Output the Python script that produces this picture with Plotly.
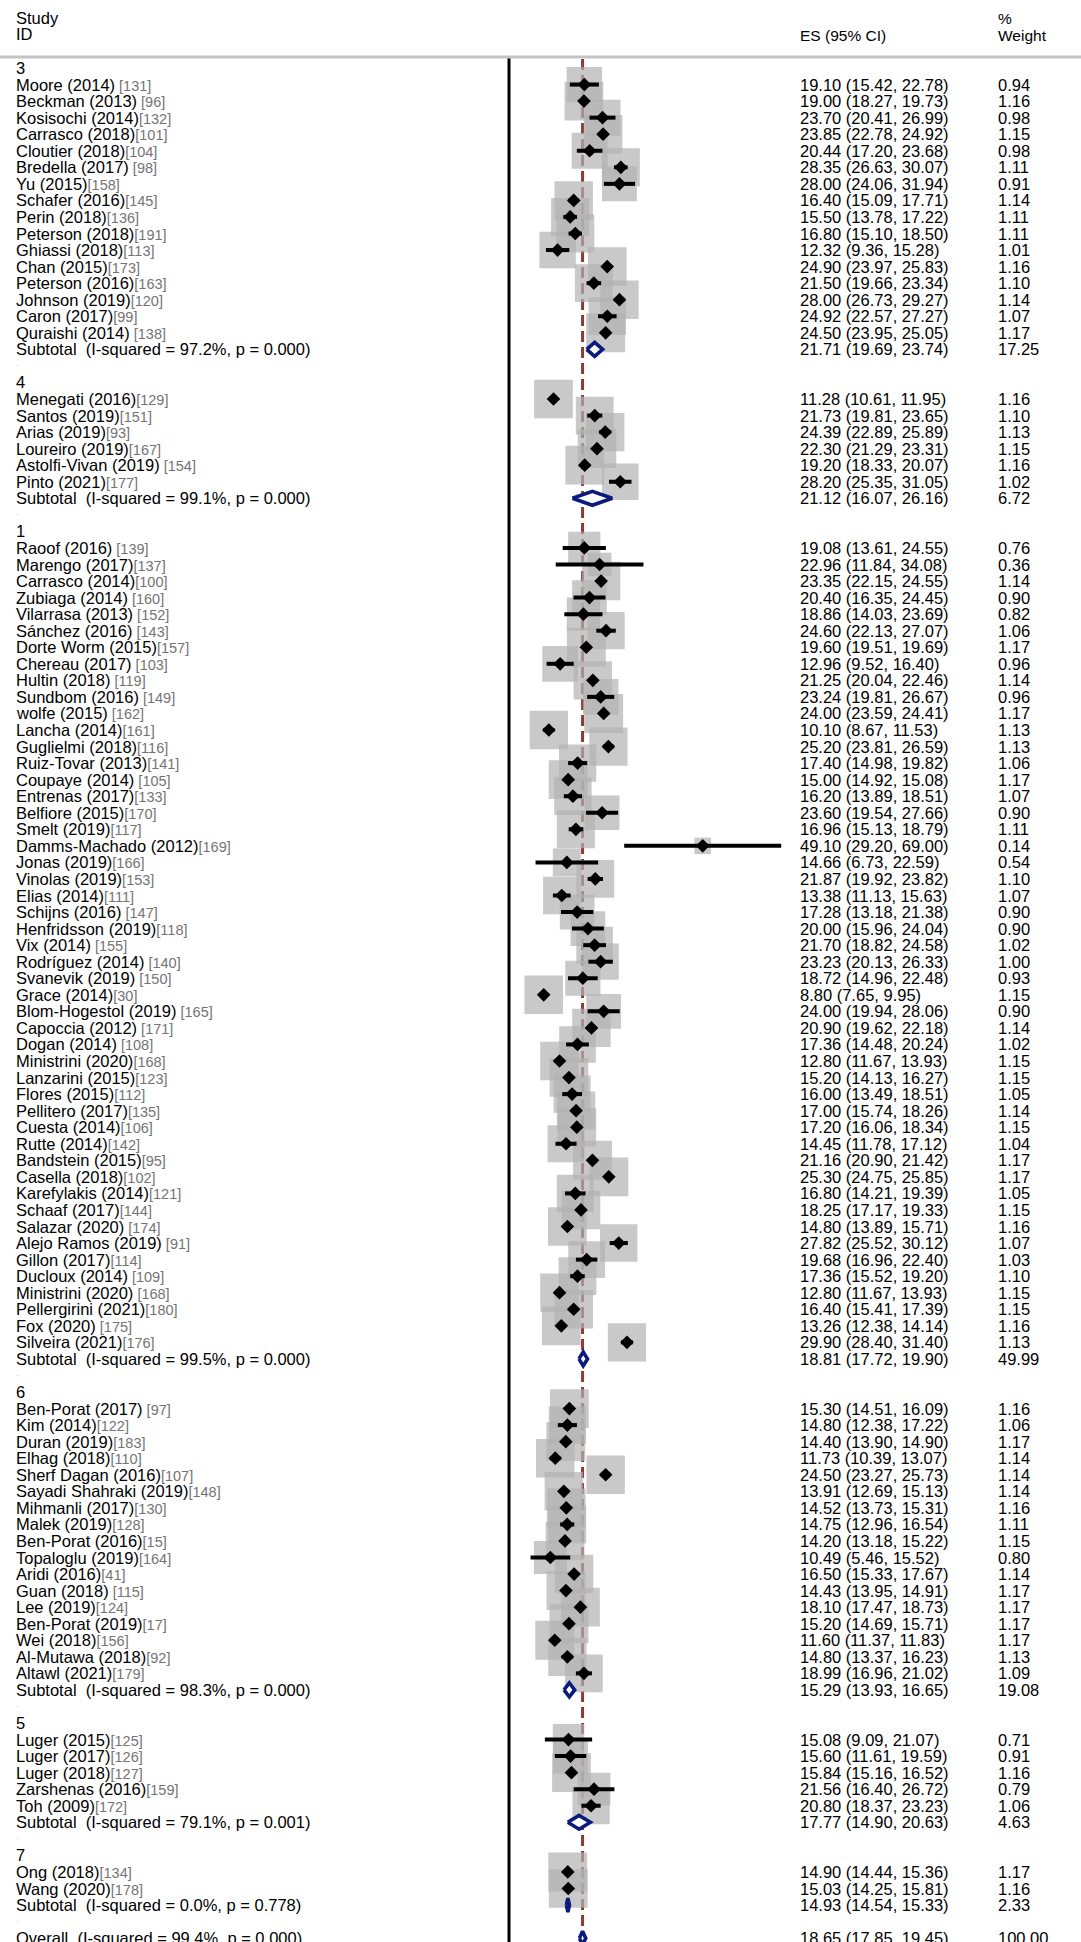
import plotly.graph_objects as go
import numpy as np

# ---------------- data ----------------
group_order = ["3", "4", "1", "6", "5", "7"]

study_group = (["3"] * 16 + ["4"] * 6 + ["1"] * 49 + ["6"] * 17 + ["5"] * 5 + ["7"] * 2)

study_name = [
    # 3
    "Moore (2014)", "Beckman (2013)", "Kosisochi (2014)", "Carrasco (2018)", "Cloutier (2018)",
    "Bredella (2017)", "Yu (2015)", "Schafer (2016)", "Perin (2018)", "Peterson (2018)",
    "Ghiassi (2018)", "Chan (2015)", "Peterson (2016)", "Johnson (2019)", "Caron (2017)",
    "Quraishi (2014)",
    # 4
    "Menegati (2016)", "Santos (2019)", "Arias (2019)", "Loureiro (2019)", "Astolfi-Vivan (2019)",
    "Pinto (2021)",
    # 1
    "Raoof (2016)", "Marengo (2017)", "Carrasco (2014)", "Zubiaga (2014)", "Vilarrasa (2013)",
    "Sánchez (2016)", "Dorte Worm (2015)", "Chereau (2017)", "Hultin (2018)", "Sundbom (2016)",
    "wolfe (2015)", "Lancha (2014)", "Guglielmi (2018)", "Ruiz-Tovar (2013)", "Coupaye (2014)",
    "Entrenas (2017)", "Belfiore (2015)", "Smelt (2019)", "Damms-Machado (2012)", "Jonas (2019)",
    "Vinolas (2019)", "Elias (2014)", "Schijns (2016)", "Henfridsson (2019)", "Vix (2014)",
    "Rodríguez (2014)", "Svanevik (2019)", "Grace (2014)", "Blom-Hogestol (2019)", "Capoccia (2012)",
    "Dogan (2014)", "Ministrini (2020)", "Lanzarini (2015)", "Flores (2015)", "Pellitero (2017)",
    "Cuesta (2014)", "Rutte (2014)", "Bandstein (2015)", "Casella (2018)", "Karefylakis (2014)",
    "Schaaf (2017)", "Salazar (2020)", "Alejo Ramos (2019)", "Gillon (2017)", "Ducloux (2014)",
    "Ministrini (2020)", "Pellergirini (2021)", "Fox (2020)", "Silveira (2021)",
    # 6
    "Ben-Porat (2017)", "Kim (2014)", "Duran (2019)", "Elhag (2018)", "Sherf Dagan (2016)",
    "Sayadi Shahraki (2019)", "Mihmanli (2017)", "Malek (2019)", "Ben-Porat (2016)",
    "Topaloglu (2019)", "Aridi (2016)", "Guan (2018)", "Lee (2019)", "Ben-Porat (2019)",
    "Wei (2018)", "Al-Mutawa (2018)", "Altawl (2021)",
    # 5
    "Luger (2015)", "Luger (2017)", "Luger (2018)", "Zarshenas (2016)", "Toh (2009)",
    # 7
    "Ong (2018)", "Wang (2020)",
]

study_ref = [
    " [131]", " [96]", "[132]", "[101]", "[104]", " [98]", "[158]", "[145]", "[136]", "[191]",
    "[113]", "[173]", "[163]", "[120]", "[99]", " [138]",
    "[129]", "[151]", "[93]", "[167]", " [154]", "[177]",
    " [139]", "[137]", "[100]", " [160]", " [152]", " [143]", "[157]", " [103]", " [119]", " [149]",
    " [162]", "[161]", "[116]", "[141]", " [105]", "[133]", "[170]", "[117]", "[169]", "[166]",
    "[153]", "[111]", " [147]", "[118]", " [155]", " [140]", " [150]", "[30]", " [165]", " [171]",
    " [108]", "[168]", "[123]", "[112]", "[135]", "[106]", "[142]", "[95]", "[102]", "[121]",
    "[144]", " [174]", " [91]", "[114]", " [109]", " [168]", "[180]", " [175]", "[176]",
    " [97]", "[122]", "[183]", "[110]", "[107]", "[148]", "[130]", "[128]", "[15]", "[164]",
    "[41]", " [115]", "[124]", "[17]", "[156]", "[92]", "[179]",
    "[125]", "[126]", "[127]", "[159]", "[172]",
    "[134]", "[178]",
]

study_es = [
    19.10, 19.00, 23.70, 23.85, 20.44, 28.35, 28.00, 16.40, 15.50, 16.80, 12.32, 24.90, 21.50,
    28.00, 24.92, 24.50,
    11.28, 21.73, 24.39, 22.30, 19.20, 28.20,
    19.08, 22.96, 23.35, 20.40, 18.86, 24.60, 19.60, 12.96, 21.25, 23.24, 24.00, 10.10, 25.20,
    17.40, 15.00, 16.20, 23.60, 16.96, 49.10, 14.66, 21.87, 13.38, 17.28, 20.00, 21.70, 23.23,
    18.72, 8.80, 24.00, 20.90, 17.36, 12.80, 15.20, 16.00, 17.00, 17.20, 14.45, 21.16, 25.30,
    16.80, 18.25, 14.80, 27.82, 19.68, 17.36, 12.80, 16.40, 13.26, 29.90,
    15.30, 14.80, 14.40, 11.73, 24.50, 13.91, 14.52, 14.75, 14.20, 10.49, 16.50, 14.43, 18.10,
    15.20, 11.60, 14.80, 18.99,
    15.08, 15.60, 15.84, 21.56, 20.80,
    14.90, 15.03,
]

study_lo = [
    15.42, 18.27, 20.41, 22.78, 17.20, 26.63, 24.06, 15.09, 13.78, 15.10, 9.36, 23.97, 19.66,
    26.73, 22.57, 23.95,
    10.61, 19.81, 22.89, 21.29, 18.33, 25.35,
    13.61, 11.84, 22.15, 16.35, 14.03, 22.13, 19.51, 9.52, 20.04, 19.81, 23.59, 8.67, 23.81,
    14.98, 14.92, 13.89, 19.54, 15.13, 29.20, 6.73, 19.92, 11.13, 13.18, 15.96, 18.82, 20.13,
    14.96, 7.65, 19.94, 19.62, 14.48, 11.67, 14.13, 13.49, 15.74, 16.06, 11.78, 20.90, 24.75,
    14.21, 17.17, 13.89, 25.52, 16.96, 15.52, 11.67, 15.41, 12.38, 28.40,
    14.51, 12.38, 13.90, 10.39, 23.27, 12.69, 13.73, 12.96, 13.18, 5.46, 15.33, 13.95, 17.47,
    14.69, 11.37, 13.37, 16.96,
    9.09, 11.61, 15.16, 16.40, 18.37,
    14.44, 14.25,
]

study_hi = [
    22.78, 19.73, 26.99, 24.92, 23.68, 30.07, 31.94, 17.71, 17.22, 18.50, 15.28, 25.83, 23.34,
    29.27, 27.27, 25.05,
    11.95, 23.65, 25.89, 23.31, 20.07, 31.05,
    24.55, 34.08, 24.55, 24.45, 23.69, 27.07, 19.69, 16.40, 22.46, 26.67, 24.41, 11.53, 26.59,
    19.82, 15.08, 18.51, 27.66, 18.79, 69.00, 22.59, 23.82, 15.63, 21.38, 24.04, 24.58, 26.33,
    22.48, 9.95, 28.06, 22.18, 20.24, 13.93, 16.27, 18.51, 18.26, 18.34, 17.12, 21.42, 25.85,
    19.39, 19.33, 15.71, 30.12, 22.40, 19.20, 13.93, 17.39, 14.14, 31.40,
    16.09, 17.22, 14.90, 13.07, 25.73, 15.13, 15.31, 16.54, 15.22, 15.52, 17.67, 14.91, 18.73,
    15.71, 11.83, 16.23, 21.02,
    21.07, 19.59, 16.52, 26.72, 23.23,
    15.36, 15.81,
]

study_wt = [
    0.94, 1.16, 0.98, 1.15, 0.98, 1.11, 0.91, 1.14, 1.11, 1.11, 1.01, 1.16, 1.10, 1.14, 1.07, 1.17,
    1.16, 1.10, 1.13, 1.15, 1.16, 1.02,
    0.76, 0.36, 1.14, 0.90, 0.82, 1.06, 1.17, 0.96, 1.14, 0.96, 1.17, 1.13, 1.13, 1.06, 1.17,
    1.07, 0.90, 1.11, 0.14, 0.54, 1.10, 1.07, 0.90, 0.90, 1.02, 1.00, 0.93, 1.15, 0.90, 1.14,
    1.02, 1.15, 1.15, 1.05, 1.14, 1.15, 1.04, 1.17, 1.17, 1.05, 1.15, 1.16, 1.07, 1.03, 1.10,
    1.15, 1.15, 1.16, 1.13,
    1.16, 1.06, 1.17, 1.14, 1.14, 1.14, 1.16, 1.11, 1.15, 0.80, 1.14, 1.17, 1.17, 1.17, 1.17,
    1.13, 1.09,
    0.71, 0.91, 1.16, 0.79, 1.06,
    1.17, 1.16,
]

sub_group = ["3", "4", "1", "6", "5", "7"]
sub_i2 = [97.2, 99.1, 99.5, 98.3, 79.1, 0.0]
sub_p = [0.000, 0.000, 0.000, 0.000, 0.001, 0.778]
sub_es = [21.71, 21.12, 18.81, 15.29, 17.77, 14.93]
sub_lo = [19.69, 16.07, 17.72, 13.93, 14.90, 14.54]
sub_hi = [23.74, 26.16, 19.90, 16.65, 20.63, 15.33]
sub_wt = [17.25, 6.72, 49.99, 19.08, 4.63, 2.33]

overall_i2 = 99.4
overall_p = 0.000
overall_es = 18.65
overall_lo = 17.85
overall_hi = 19.45
overall_wt = 100.00

# ---------------- layout constants ----------------
W, H = 1081, 1942
ROW0_PX = 68.0
ROW_PX = 16.55
HEAD_LINE_PX = 57.0
X_ZERO_PX = 509.0
PX_PER_UNIT = 3.945

x_min = -X_ZERO_PX / PX_PER_UNIT
x_max = x_min + W / PX_PER_UNIT
y_top = -ROW0_PX / ROW_PX
y_bot = (H - ROW0_PX) / ROW_PX

FONT = "Liberation Sans, Arial, sans-serif"
LAB_SIZE = 16.5
NUM_SIZE = 16.5
HEAD_SIZE = 15.5
REF_SIZE = 14.5
X_LAB = 15 / W
X_ES = 799 / W
X_WT = 997 / W

# ---------------- assemble rows ----------------
r = 0
study_rows = [None] * len(study_name)
sub_rows = {}
header_rows = {}
blank_rows = []
for g in group_order:
    header_rows[g] = r
    r += 1
    for i, sg in enumerate(study_group):
        if sg == g:
            study_rows[i] = r
            r += 1
    sub_rows[g] = r
    r += 1
    blank_rows.append(r)
    r += 1
overall_row = r

annotations = []


def add_text(x, y, text, size, color="#000000", yref="y"):
    annotations.append(dict(
        x=x, y=y, xref="paper", yref=yref, text=text, showarrow=False,
        xanchor="left", yanchor="middle", borderpad=0,
        font=dict(family=FONT, size=size, color=color),
    ))


def fmt_ci(es, lo, hi):
    return f"{es:.2f} ({lo:.2f}, {hi:.2f})"


# header
add_text(X_LAB, 1 - 18 / H, "Study", LAB_SIZE, yref="paper")
add_text(X_LAB, 1 - 34 / H, "ID", LAB_SIZE, yref="paper")
add_text(X_ES, 1 - 35 / H, "ES (95% CI)", HEAD_SIZE, yref="paper")
add_text(X_WT, 1 - 19 / H, "%", HEAD_SIZE, yref="paper")
add_text(X_WT, 1 - 35 / H, "Weight", HEAD_SIZE, yref="paper")

for g in group_order:
    add_text(X_LAB, header_rows[g], g, LAB_SIZE)

for i, name in enumerate(study_name):
    y = study_rows[i]
    ref = study_ref[i].replace(" ", "\u00a0")
    add_text(X_LAB, y, f"{name}<span style='font-size:{REF_SIZE}px;color:#747474'>{ref}</span>", LAB_SIZE)
    add_text(X_ES, y, fmt_ci(study_es[i], study_lo[i], study_hi[i]), NUM_SIZE)
    add_text(X_WT, y, f"{study_wt[i]:.2f}", NUM_SIZE)

for k, g in enumerate(sub_group):
    y = sub_rows[g]
    add_text(X_LAB, y, f"Subtotal\u00a0\u00a0(I-squared = {sub_i2[k]:.1f}%, p = {sub_p[k]:.3f})", LAB_SIZE)
    add_text(X_ES, y, fmt_ci(sub_es[k], sub_lo[k], sub_hi[k]), NUM_SIZE)
    add_text(X_WT, y, f"{sub_wt[k]:.2f}", NUM_SIZE)

for y in blank_rows:
    add_text(X_LAB, y - 0.15, ".", 9, color="#c8c8c8")

add_text(X_LAB, overall_row, f"Overall\u00a0\u00a0(I-squared = {overall_i2:.1f}%, p = {overall_p:.3f})", LAB_SIZE)
add_text(X_ES, overall_row, fmt_ci(overall_es, overall_lo, overall_hi), NUM_SIZE)
add_text(X_WT, overall_row, f"{overall_wt:.2f}", NUM_SIZE)

# ---------------- traces ----------------
fig = go.Figure()

box_sizes = [4.7 + 31.6 * np.sqrt(w) for w in study_wt]
fig.add_trace(go.Scatter(
    x=study_es, y=study_rows, mode="markers",
    marker=dict(symbol="square", size=box_sizes, color="#b2b2b2", line=dict(width=0)),
    hoverinfo="skip", showlegend=False,
))

ci_x, ci_y = [], []
for i in range(len(study_es)):
    ci_x += [study_lo[i], study_hi[i], None]
    ci_y += [study_rows[i], study_rows[i], None]
fig.add_trace(go.Scatter(
    x=ci_x, y=ci_y, mode="lines", line=dict(color="black", width=4),
    hoverinfo="skip", showlegend=False,
))

fig.add_trace(go.Scatter(
    x=study_es, y=study_rows, mode="markers",
    marker=dict(symbol="diamond", size=10.5, color="black", line=dict(width=0)),
    hoverinfo="skip", showlegend=False,
))

DH = 0.42
dx, dy = [], []
all_es = sub_es + [overall_es]
all_lo = sub_lo + [overall_lo]
all_hi = sub_hi + [overall_hi]
all_rows = [sub_rows[g] for g in sub_group] + [overall_row]
for es, lo, hi, yy in zip(all_es, all_lo, all_hi, all_rows):
    dx += [lo, es, hi, es, lo, None]
    dy += [yy, yy - DH, yy, yy + DH, yy, None]
fig.add_trace(go.Scatter(
    x=dx, y=dy, mode="lines", fill="toself", fillcolor="white",
    line=dict(color="#0b1a7d", width=3.6), hoverinfo="skip", showlegend=False,
))

# ---------------- shapes ----------------
line_top = 1 - HEAD_LINE_PX / H
shapes = [
    dict(type="line", xref="x", yref="paper", x0=overall_es, x1=overall_es,
         y0=0, y1=line_top, line=dict(color="#8c3a3a", width=3, dash="11px,5px"), layer="below"),
    dict(type="line", xref="x", yref="paper", x0=0, x1=0, y0=0, y1=line_top,
         line=dict(color="black", width=3), layer="above"),
    dict(type="line", xref="paper", yref="paper", x0=0, x1=1, y0=line_top, y1=line_top,
         line=dict(color="#c3c3c3", width=3), layer="above"),
]

fig.update_layout(
    width=W, height=H,
    margin=dict(l=0, r=0, t=0, b=0, pad=0),
    paper_bgcolor="white", plot_bgcolor="white",
    xaxis=dict(range=[x_min, x_max], visible=False, showgrid=False, zeroline=False, fixedrange=True),
    yaxis=dict(range=[y_bot, y_top], visible=False, showgrid=False, zeroline=False, fixedrange=True),
    annotations=annotations,
    shapes=shapes,
    showlegend=False,
)

fig.write_html("out.html", config={"displayModeBar": False},
               post_script="document.body.style.margin='0';document.body.style.overflow='hidden';")
